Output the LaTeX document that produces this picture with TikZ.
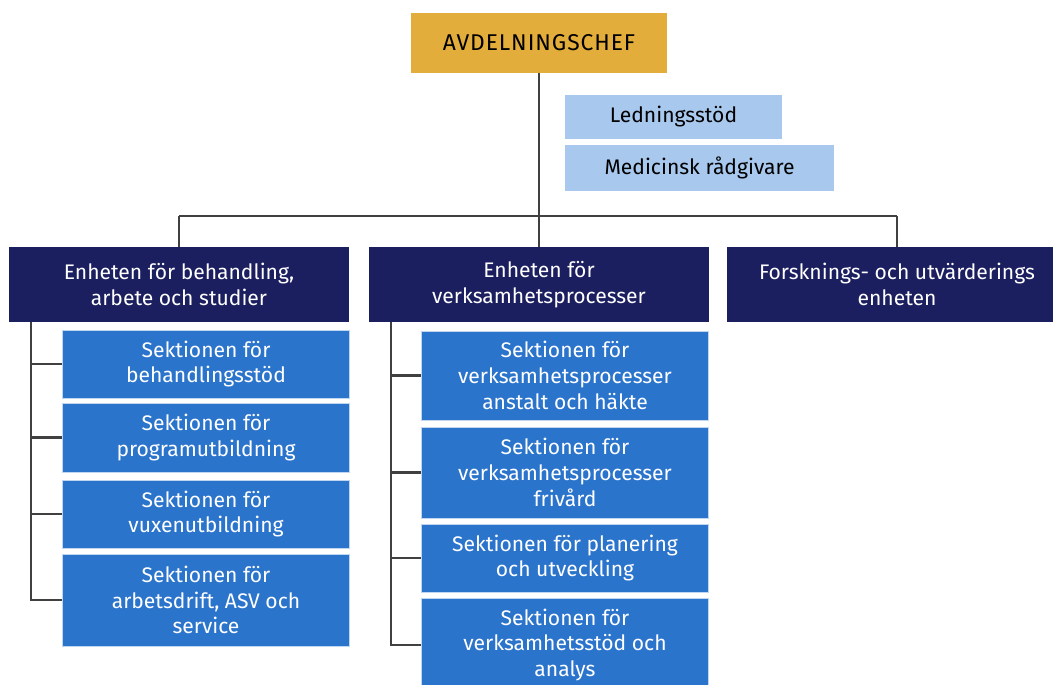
\documentclass[tikz,border=0pt]{standalone}
\usepackage{fontspec}
\setmainfont{Fira Sans}[Ligatures=NoCommon]
\usetikzlibrary{positioning}
\definecolor{chefgold}{HTML}{E2AD3B}
\definecolor{stodblue}{HTML}{A8C8EE}
\definecolor{enhetnavy}{HTML}{1B1E5F}
\definecolor{sektblue}{HTML}{2B74CC}
\definecolor{linegray}{HTML}{404040}

\begin{document}
\begin{tikzpicture}[
  x=0.02cm, y=-0.02cm,
  box/.style={rectangle, inner sep=0pt, text centered, align=center,
    font=\fontsize{12}{14.6}\selectfont},
  chefbox/.style={box, fill=chefgold, text=black, minimum width=256*0.02cm, minimum height=60*0.02cm,
    font=\fontsize{13}{15}\selectfont\addfontfeature{LetterSpace=4}},
  stodbox/.style={box, fill=stodblue, text=black, minimum height=44*0.02cm},
  enhetbox/.style={box, fill=enhetnavy, text=white, minimum width=340*0.02cm, minimum height=75*0.02cm},
  sektbox/.style={box, fill=sektblue, text=white, draw=white!70!sektblue, line width=0.4pt, minimum width=287*0.02cm},
  link/.style={draw=linegray, line width=1.5pt}
]
\useasboundingbox (0,0) rectangle (1053,684);

\node[chefbox] (chef) at (539,43) {AVDELNINGSCHEF};

\node[stodbox, minimum width=217*0.02cm] (led) at (673.5,117) {Ledningsstöd};
\node[stodbox, minimum width=269*0.02cm, minimum height=46*0.02cm] (med) at (699.5,168) {Medicinsk rådgivare};

\node[enhetbox] (beh) at (179,284.5) {Enheten för behandling,\\arbete och studier};
\node[enhetbox] (verk) at (539,284.5) {Enheten för\\verksamhetsprocesser};
\node[enhetbox] (fou) at (897,284.5) {Forsknings- och utvärderings\\enheten};

% sektioner under behandling
\node[sektbox, minimum height=68*0.02cm] (bst) at (206,364) {Sektionen för\\behandlingsstöd};
\node[sektbox, minimum height=69*0.02cm] (prog) at (206,437.5) {Sektionen för\\programutbildning};
\node[sektbox, minimum height=68*0.02cm] (vux) at (206,514) {Sektionen för\\vuxenutbildning};
\node[sektbox, minimum height=92*0.02cm] (adr) at (206,600) {Sektionen för\\arbetsdrift, ASV och\\service};

% sektioner under verksamhetsprocesser
\node[sektbox, minimum height=89*0.02cm] (ans) at (565,375.5) {Sektionen för\\verksamhetsprocesser\\anstalt och häkte};
\node[sektbox, minimum height=91*0.02cm] (friv) at (565,472.5) {Sektionen för\\verksamhetsprocesser\\frivård};
\node[sektbox, minimum height=68*0.02cm] (plan) at (565,558) {Sektionen för planering\\och utveckling};
\node[sektbox, minimum height=94*0.02cm] (ana) at (565,645) {Sektionen för\\verksamhetsstöd och\\analys};

\coordinate (bar) at (0,216);
\coordinate (trunk1) at (31,0);
\coordinate (trunk2) at (391,0);

\draw[link] (chef.south) -- (chef |- bar);
\draw[link] (beh |- bar) -- (fou |- bar);
\draw[link] (beh |- bar) -- (beh.north);
\draw[link] (verk |- bar) -- (verk.north);
\draw[link] (fou |- bar) -- (fou.north);

\draw[link] (beh.south -| trunk1) -- (trunk1 |- adr) -- (adr.west);
\foreach \s in {bst,prog,vux}
  \draw[link] (trunk1 |- \s) -- (\s.west);

\draw[link] (verk.south -| trunk2) -- (trunk2 |- ana) -- (ana.west);
\foreach \s in {ans,friv,plan}
  \draw[link] (trunk2 |- \s) -- (\s.west);
\end{tikzpicture}
\end{document}
